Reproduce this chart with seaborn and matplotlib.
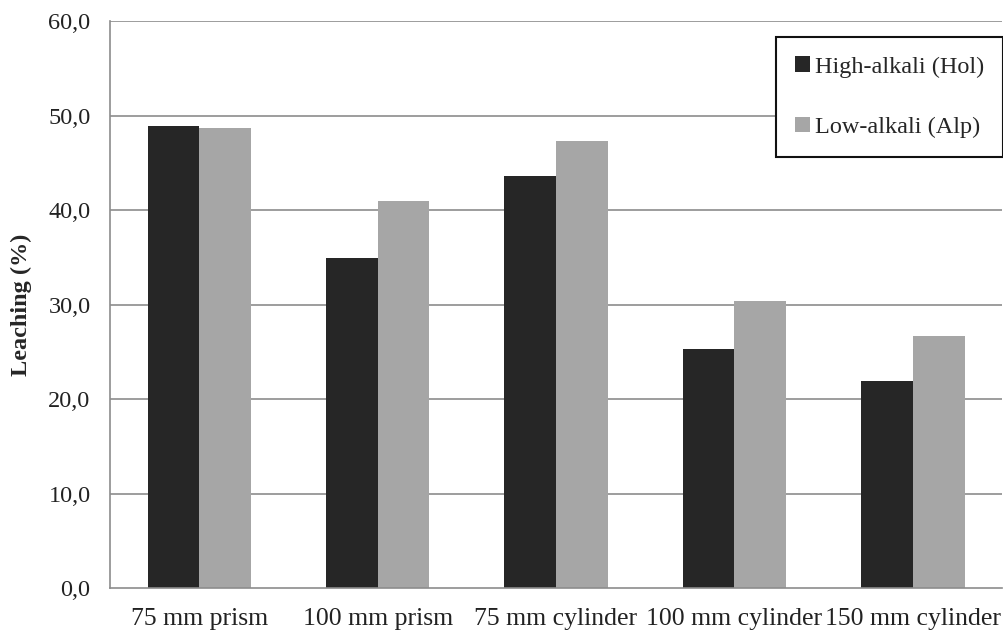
import matplotlib
matplotlib.use("Agg")
import matplotlib.pyplot as plt
import seaborn as sns
import pandas as pd
import numpy as np

# Leaching of alkalis by specimen geometry
specimens = ["75 mm prism", "100 mm prism", "75 mm cylinder", "100 mm cylinder", "150 mm cylinder"]
high_alkali = [48.9, 34.9, 43.6, 25.3, 21.9]
low_alkali = [48.7, 41.0, 47.3, 30.4, 26.7]
series_names = ["High-alkali (Hol)", "Low-alkali (Alp)"]
y_ticks = [0, 10, 20, 30, 40, 50, 60]

df = pd.DataFrame({
    "Specimen": specimens * 2,
    "Leaching": high_alkali + low_alkali,
    "Cement": [series_names[0]] * len(specimens) + [series_names[1]] * len(specimens),
})

sns.set_style("white")
plt.rcParams["font.family"] = ["Liberation Serif", "DejaVu Serif"]

fs = 17.5

fig = plt.figure(figsize=(10.04, 6.38), dpi=100)
ax = fig.add_axes([0.1096, 0.0779, 0.8884, 0.8891])

grid_color = "#8c8c8c"
ax.set_axisbelow(True)
for v in y_ticks[1:]:
    ax.axhline(v, color=grid_color, lw=1.2, zorder=0)

sns.barplot(data=df, x="Specimen", y="Leaching", hue="Cement",
            palette=["#262626", "#a6a6a6"], width=0.58, gap=0,
            linewidth=0, saturation=1, ax=ax, zorder=2)

ax.set_xlim(-0.5, len(specimens) - 0.5)
ax.set_ylim(0, 60)
ax.set_yticks(y_ticks)
ax.set_yticklabels([f"{v:.1f}".replace(".", ",") for v in y_ticks], fontsize=fs)
ax.tick_params(axis="y", direction="out", length=7, width=1.2, color=grid_color,
               pad=7, labelcolor="#222222")

ax.set_xticks(range(len(specimens)))
ax.set_xticklabels(specimens, fontsize=18.5)
ax.set_xticks(np.arange(-0.5, len(specimens)), minor=True)
ax.tick_params(axis="x", which="major", length=0, pad=14, labelcolor="#222222")
ax.tick_params(axis="x", which="minor", direction="out", length=6, width=1.2, color=grid_color)

for side in ["top", "right"]:
    ax.spines[side].set_visible(False)
for side in ["left", "bottom"]:
    ax.spines[side].set_color(grid_color)
    ax.spines[side].set_linewidth(1.2)

ax.set_xlabel("")
ax.set_ylabel("Leaching (%)", fontsize=fs, fontweight="bold", labelpad=12)

handles, labels = ax.get_legend_handles_labels()
leg = ax.legend(handles, labels, loc="upper right", bbox_to_anchor=(0.9995, 0.942),
                bbox_transform=fig.transFigure, fontsize=fs, frameon=True,
                fancybox=False, edgecolor="#111111", framealpha=1,
                handlelength=0.6, handleheight=0.6, handletextpad=0.2,
                labelspacing=1.6, borderpad=0.8, borderaxespad=0)
leg.get_frame().set_linewidth(1.5)

fig.savefig("out.png", dpi=100)
